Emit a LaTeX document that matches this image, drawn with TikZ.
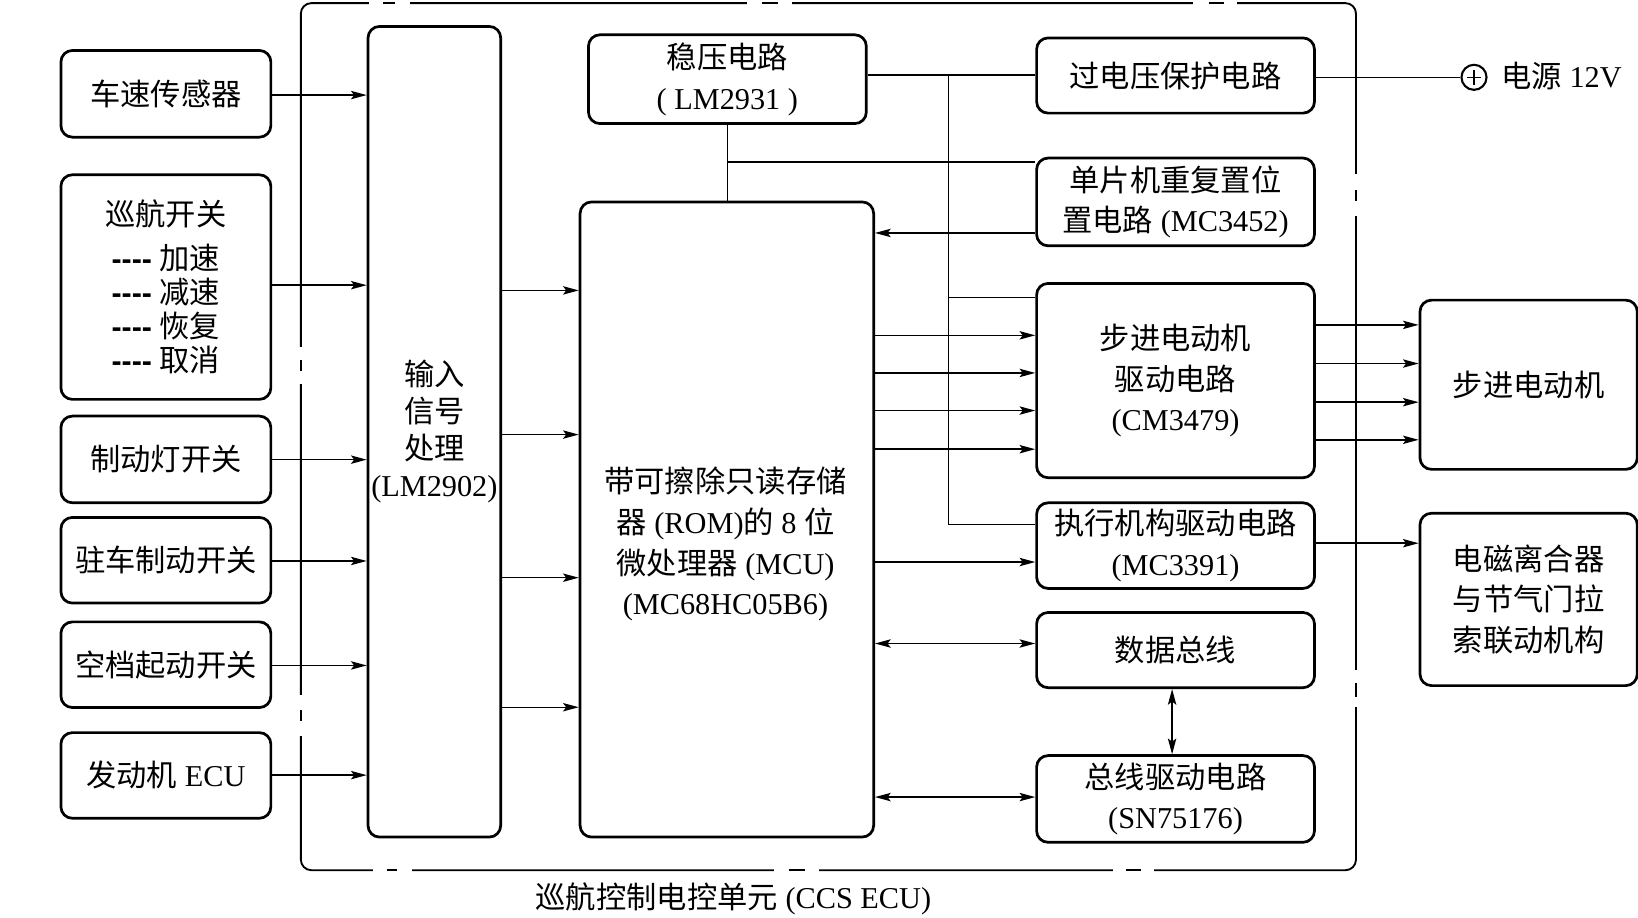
\documentclass[tikz,border=0pt]{standalone}
\usepackage{fontspec}
\setmainfont{Liberation Serif}
\newfontfamily\cjk{Noto Sans CJK SC}
\newfontfamily\dashfont[Ligatures=TeXOff]{Liberation Sans}
\newcommand\zh[1]{{\cjk #1}}
\newcommand\dsh{{\dashfont\bfseries ----}}
\usetikzlibrary{arrows.meta}
\begin{document}
\begin{tikzpicture}[x=1pt,y=-1pt,
  box/.style={draw, line width=2.6pt, rounded corners=11pt, inner sep=0pt, align=center,
    font=\fontsize{29}{39}\selectfont, anchor=north west},
  txt/.style={inner sep=0pt, align=center, font=\fontsize{29}{39}\selectfont},
  conn/.style={line width=1.4pt},
  arr/.style={conn, -{Stealth[length=15pt,width=8pt,inset=3pt]}},
  darr/.style={conn, {Stealth[length=15pt,width=8pt,inset=3pt]}-{Stealth[length=15pt,width=8pt,inset=3pt]}},
  outerline/.style={line width=1.8pt}
]
\useasboundingbox (0,0) rectangle (1568,878);

% outer dash-dot enclosure
\draw[outerline, rounded corners=10pt] (288,3) rectangle (1298,833);
\foreach \a/\b/\c/\d in {353/392/367/378, 715/758/729/745, 1142/1184/1157/1172}{
  \fill[white] (\a,-1) rectangle (\b,7);
  \draw[outerline] (\c,3) -- (\d,3);
}
\foreach \a/\b/\c/\d in {357/394/370/380, 741/784/755/771, 1065/1105/1078/1092}{
  \fill[white] (\a,829) rectangle (\b,837);
  \draw[outerline] (\c,833) -- (\d,833);
}
\foreach \a/\b/\c/\d in {332/368/345/355, 665/705/680/690}{
  \fill[white] (284,\a) rectangle (292,\b);
  \draw[outerline] (288,\c) -- (288,\d);
}
\foreach \a/\b/\c/\d in {167/207/182/192, 641/677/654/667}{
  \fill[white] (1294,\a) rectangle (1302,\b);
  \draw[outerline] (1298,\c) -- (1298,\d);
}

% left column
\node[box, minimum width=201pt, minimum height=83pt] (car) at (57,47) {\zh{车速传感器}};
\node[box, minimum width=201pt, minimum height=215pt, font=\fontsize{29}{32.5}\selectfont] (cruise) at (57,166)
  {\zh{巡航开关}\\[9.5pt]\dsh\ \zh{加速}\\\dsh\ \zh{减速}\\\dsh\ \zh{恢复}\\\dsh\ \zh{取消}};
\node[box, minimum width=201pt, minimum height=83pt] (brake) at (57,397) {\zh{制动灯开关}};
\node[box, minimum width=201pt, minimum height=82pt] (park) at (57,494) {\zh{驻车制动开关}};
\node[box, minimum width=201pt, minimum height=82pt] (neutral) at (57,594) {\zh{空档起动开关}};
\node[box, minimum width=201pt, minimum height=82pt] (engine) at (57,700) {\zh{发动机} ECU};

% input processing
\node[box, minimum width=127pt, minimum height=776pt, font=\fontsize{29}{35.5}\selectfont] (input) at (351,24)
  {\zh{输入}\\\zh{信号}\\\zh{处理}\\(LM2902)};

% MCU and regulator
\node[box, minimum width=281pt, minimum height=608pt] (mcu) at (554,192) {};
\node[txt] (mcutxt) at (694.5,521) {\zh{带可擦除只读存储}\\\zh{器} (ROM)\zh{的} 8 \zh{位}\\\zh{微处理器} (MCU)\\(MC68HC05B6)};
\node[box, minimum width=266pt, minimum height=85pt] (wy) at (562,32) {\zh{稳压电路}\\( LM2931 )};

% right column
\node[box, minimum width=266pt, minimum height=72pt] (ov) at (991,35) {\zh{过电压保护电路}};
\node[box, minimum width=266pt, minimum height=84pt] (reset) at (991,150) {\zh{单片机重复置位}\\\zh{置电路} (MC3452)};
\node[box, minimum width=266pt, minimum height=186pt] (sdrv) at (991,270) {\zh{步进电动机}\\\zh{驱动电路}\\(CM3479)};
\node[box, minimum width=266pt, minimum height=82pt] (act) at (991,480) {\zh{执行机构驱动电路}\\(MC3391)};
\node[box, minimum width=266pt, minimum height=72pt] (bus) at (991,585) {\zh{数据总线}};
\node[box, minimum width=266pt, minimum height=83pt] (bdrv) at (991,722) {\zh{总线驱动电路}\\(SN75176)};

% external actuators
\node[box, minimum width=208pt, minimum height=162pt] (motor) at (1358,286) {\zh{步进电动机}};
\node[box, minimum width=208pt, minimum height=165pt] (clutch) at (1358,490) {\zh{电磁离合器}\\\zh{与节气门拉}\\\zh{索联动机构}};

% power supply
\node[circle, draw, line width=2pt, minimum size=24pt, inner sep=0pt] (pwr) at (1411,74) {};
\draw[line width=1.3pt] (pwr.center) ++(-7,0) -- ++(14,0);
\draw[line width=1.3pt] (pwr.center) ++(0,-7) -- ++(0,14);
\node[txt, anchor=west] (pwrlabel) at (1437,73) {\zh{电源} 12V};

% caption
\node[txt] (caption) at (702,860) {\zh{巡航控制电控单元} (CCS ECU)};

% connectors: inputs
\foreach \n/\y in {car/91, cruise/273, brake/440, park/537, neutral/637, engine/742}
  \draw[arr] (\n.east |- 0,\y) -- (input.west |- 0,\y);
\foreach \y in {278,416,553,677}
  \draw[arr] (input.east |- 0,\y) -- (mcu.west |- 0,\y);

% regulator / power distribution
\coordinate (j) at (908,72);
\draw[conn] (wy.south) -- (wy.south |- mcu.north);
\draw[conn] (wy.south |- 0,155) -- (reset.west |- 0,155);
\draw[conn] (wy.east |- j) -- (ov.west |- j);
\draw[conn] (j) -- (j |- 0,502) -- (act.west |- 0,502);
\draw[conn] (j |- 0,285) -- (sdrv.west |- 0,285);
\draw[conn] (ov.east |- pwr.west) -- (pwr.west);

% MCU outputs
\draw[arr] (reset.west |- 0,223) -- (mcu.east |- 0,223);
\foreach \y in {321,357,393,430}
  \draw[arr] (mcu.east |- 0,\y) -- (sdrv.west |- 0,\y);
\foreach \y in {311,348,385,421}
  \draw[arr] (sdrv.east |- 0,\y) -- (motor.west |- 0,\y);
\draw[arr] (mcu.east |- 0,538) -- (act.west |- 0,538);
\draw[arr] (act.east |- 0,520) -- (clutch.west |- 0,520);
\draw[darr] (mcu.east |- 0,616) -- (bus.west |- 0,616);
\draw[darr] (bus.south -| 1122,0) -- (bdrv.north -| 1122,0);
\draw[darr] (mcu.east |- 0,763) -- (bdrv.west |- 0,763);
\end{tikzpicture}
\end{document}
